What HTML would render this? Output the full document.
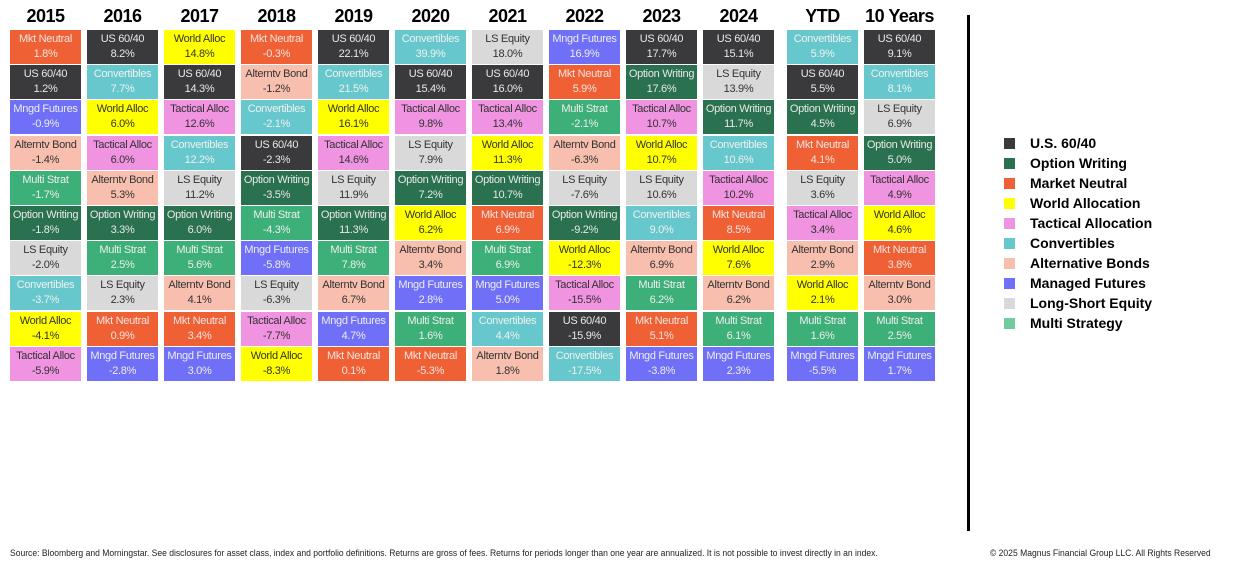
<!DOCTYPE html>
<html><head><meta charset="utf-8"><style>
body{margin:0;width:1240px;height:566px;background:#fff;position:relative;font-family:"Liberation Sans",sans-serif;overflow:hidden}
.h{position:absolute;top:6px;width:71px;text-align:center;font-weight:bold;font-size:18px;color:#000;letter-spacing:-0.5px}
.c{position:absolute;width:71px;height:34px;text-align:center;font-size:11px;line-height:15px;padding-top:2px;box-sizing:border-box;letter-spacing:-0.3px}
.US{background:#3a3a3c;color:#e8e8e8}.OW{background:#2a7150;color:#e8e8e8}.MN{background:#f06035;color:#f4e4e0}
.WA{background:#ffff00;color:#333}.TA{background:#f093e0;color:#333}.CV{background:#66c8cc;color:#f0f0f0}
.AB{background:#f8bfae;color:#333}.MF{background:#6f6ff8;color:#eee}.LS{background:#d9d9d9;color:#333}.MS{background:#3daf78;color:#eee}
.lg{position:absolute;left:1004px;width:11px;height:11px}
.lt{position:absolute;left:1030px;font-weight:bold;font-size:14px;color:#000}
.f{position:absolute;top:548px;font-size:9px;color:#222;white-space:nowrap;transform:scaleX(0.95);transform-origin:0 0}
</style></head><body>
<div id="g"></div>
<div style="position:absolute;left:967px;top:15px;width:3px;height:516px;background:#000"></div>
<div class="f" style="left:10px">Source: Bloomberg and Morningstar. See disclosures for asset class, index and portfolio definitions. Returns are gross of fees. Returns for periods longer than one year are annualized. It is not possible to invest directly in an index.</div>
<div class="f" style="left:990px">© 2025 Magnus Financial Group LLC. All Rights Reserved</div>
<script>
const names={US:"US 60/40",OW:"Option Writing",MN:"Mkt Neutral",WA:"World Alloc",TA:"Tactical Alloc",CV:"Convertibles",AB:"Alterntv Bond",MF:"Mngd Futures",LS:"LS Equity",MS:"Multi Strat"};
const cols=[
["2015",10,"MN 1.8,US 1.2,MF -0.9,AB -1.4,MS -1.7,OW -1.8,LS -2.0,CV -3.7,WA -4.1,TA -5.9"],
["2016",87,"US 8.2,CV 7.7,WA 6.0,TA 6.0,AB 5.3,OW 3.3,MS 2.5,LS 2.3,MN 0.9,MF -2.8"],
["2017",164,"WA 14.8,US 14.3,TA 12.6,CV 12.2,LS 11.2,OW 6.0,MS 5.6,AB 4.1,MN 3.4,MF 3.0"],
["2018",241,"MN -0.3,AB -1.2,CV -2.1,US -2.3,OW -3.5,MS -4.3,MF -5.8,LS -6.3,TA -7.7,WA -8.3"],
["2019",318,"US 22.1,CV 21.5,WA 16.1,TA 14.6,LS 11.9,OW 11.3,MS 7.8,AB 6.7,MF 4.7,MN 0.1"],
["2020",395,"CV 39.9,US 15.4,TA 9.8,LS 7.9,OW 7.2,WA 6.2,AB 3.4,MF 2.8,MS 1.6,MN -5.3"],
["2021",472,"LS 18.0,US 16.0,TA 13.4,WA 11.3,OW 10.7,MN 6.9,MS 6.9,MF 5.0,CV 4.4,AB 1.8"],
["2022",549,"MF 16.9,MN 5.9,MS -2.1,AB -6.3,LS -7.6,OW -9.2,WA -12.3,TA -15.5,US -15.9,CV -17.5"],
["2023",626,"US 17.7,OW 17.6,TA 10.7,WA 10.7,LS 10.6,CV 9.0,AB 6.9,MS 6.2,MN 5.1,MF -3.8"],
["2024",703,"US 15.1,LS 13.9,OW 11.7,CV 10.6,TA 10.2,MN 8.5,WA 7.6,AB 6.2,MS 6.1,MF 2.3"],
["YTD",787,"CV 5.9,US 5.5,OW 4.5,MN 4.1,LS 3.6,TA 3.4,AB 2.9,WA 2.1,MS 1.6,MF -5.5"],
["10 Years",864,"US 9.1,CV 8.1,LS 6.9,OW 5.0,TA 4.9,WA 4.6,MN 3.8,AB 3.0,MS 2.5,MF 1.7"]];
let h="";
for(const [t,x,d] of cols){
 h+=`<div class="h" style="left:${x}px">${t}</div>`;
 d.split(",").forEach((e,i)=>{const [k,v]=e.split(" ");const y=30+35.2*i;
 h+=`<div class="c ${k}" style="left:${x}px;top:${y}px">${names[k]}<br>${v}%</div>`;});
}
const lg=[["#3a3a3c","U.S. 60/40"],["#2a7150","Option Writing"],["#f06035","Market Neutral"],["#ffff00","World Allocation"],["#f093e0","Tactical Allocation"],["#66c8cc","Convertibles"],["#f8bfae","Alternative Bonds"],["#6f6ff8","Managed Futures"],["#d9d9d9","Long-Short Equity"],["#6fcc9c","Multi Strategy"]];
lg.forEach((l,i)=>{const y=138+20*i;h+=`<div class="lg" style="top:${y}px;background:${l[0]}"></div><div class="lt" style="top:${y-3}px">${l[1]}</div>`;});
document.getElementById("g").innerHTML=h;
</script>
</body></html>
